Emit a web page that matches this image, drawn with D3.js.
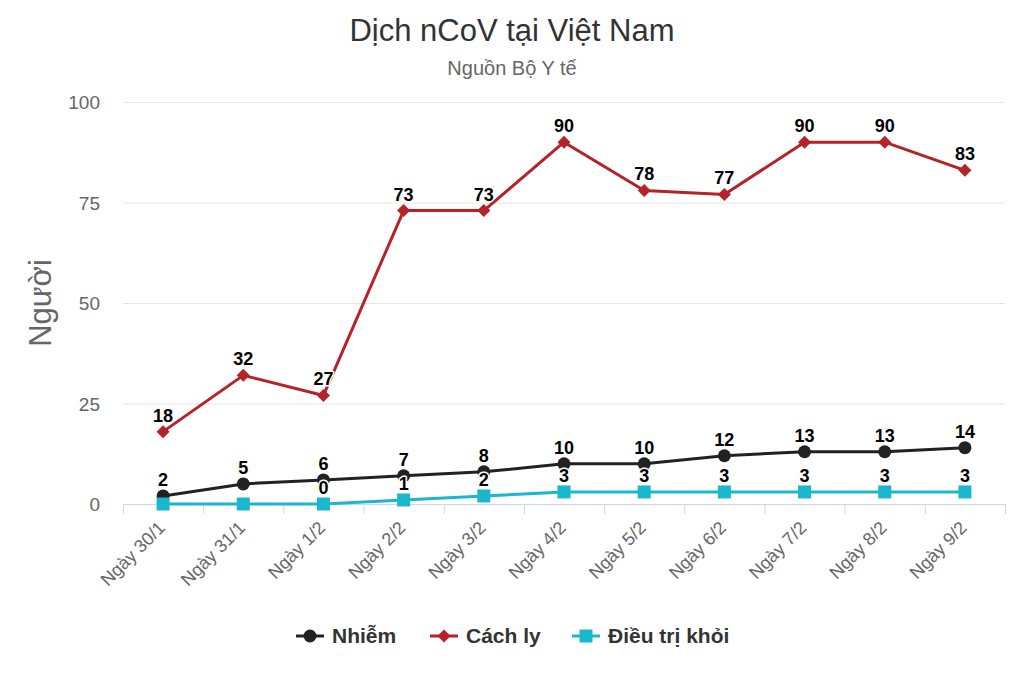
<!DOCTYPE html>
<html><head><meta charset="utf-8">
<script src="https://cdn.jsdelivr.net/npm/d3@7/dist/d3.min.js"></script>
<style>body{margin:0;background:#fff;font-family:"Liberation Sans",Arial,sans-serif;}</style>
</head><body><svg id="c" width="1024" height="683" font-family="Liberation Sans, Arial, sans-serif"></svg>
<script>
const categories = ["Ngày 30/1","Ngày 31/1","Ngày 1/2","Ngày 2/2","Ngày 3/2","Ngày 4/2","Ngày 5/2","Ngày 6/2","Ngày 7/2","Ngày 8/2","Ngày 9/2"];
const nhiem = [2,5,6,7,8,10,10,12,13,13,14];
const cachLy = [18,32,27,73,73,90,78,77,90,90,83];
const dieuTri = [0,0,0,1,2,3,3,3,3,3,3];
const yTicks = [0,25,50,75,100];
const seriesNames = ["Nhiễm","Cách ly","Điều trị khỏi"];
const hiddenLabels = {2:[0,1]}; // labels hidden by overlap in original

const series = [
  {name:seriesNames[0], values:nhiem, color:"#222222", symbol:"circle"},
  {name:seriesNames[1], values:cachLy, color:"#b5222a", symbol:"diamond"},
  {name:seriesNames[2], values:dieuTri, color:"#1bb7cf", symbol:"square"}
];

const svg = d3.select("#c");
const L=123, R=1005, T=102, B=504;
const x = d3.scaleBand().domain(categories).range([L,R]);
const y = d3.scaleLinear().domain([0,100]).range([B,T]);

svg.append("text").attr("x",512).attr("y",41).attr("text-anchor","middle")
  .attr("font-size",31).attr("fill","#333").text("Dịch nCoV tại Việt Nam");
svg.append("text").attr("x",512).attr("y",75).attr("text-anchor","middle")
  .attr("font-size",20).attr("fill","#666").text("Nguồn Bộ Y tế");

// grid
const g = svg.append("g");
g.selectAll("line.grid").data(yTicks.filter(d=>d>0)).enter().append("line")
  .attr("x1",L).attr("x2",R).attr("y1",d=>y(d)+0.5).attr("y2",d=>y(d)+0.5)
  .attr("stroke","#e6e6e6").attr("stroke-width",1);
g.selectAll("text.yt").data(yTicks).enter().append("text")
  .attr("x",100).attr("y",d=>y(d)+7).attr("text-anchor","end")
  .attr("font-size",19).attr("fill","#666").text(d=>d);

svg.append("text").attr("transform","translate(51,303) rotate(-90)")
  .attr("text-anchor","middle").attr("font-size",31).attr("fill","#666").text("Người");

// x axis
const xAxis = d3.axisBottom(x).tickSize(0).tickFormat("");
const ax = svg.append("g").attr("transform",`translate(0,${B})`).call(xAxis);
ax.select(".domain").attr("stroke","#ccd6eb").attr("d",`M${L},0.5H${R}`);
const bounds = categories.map(c=>x(c)).concat([R]);
ax.selectAll("line.tk").data(bounds).enter().append("line")
  .attr("x1",d=>d+0.5).attr("x2",d=>d+0.5).attr("y1",0).attr("y2",10)
  .attr("stroke","#ccd6eb");
svg.append("g").selectAll("text").data(categories).enter().append("text")
  .attr("transform",d=>`translate(${x(d)+x.bandwidth()/2+3},${B+25}) rotate(-45)`)
  .attr("text-anchor","end").attr("font-size",18).attr("fill","#666").text(d=>d);

function drawMarker(sel,sym,color,cx,cy){
  if(sym==="diamond"){
    const s=6.5;
    sel.append("path").attr("d",`M${cx},${cy-s}L${cx+s},${cy}L${cx},${cy+s}L${cx-s},${cy}Z`).attr("fill",color);
  } else if(sym==="square"){
    sel.append("rect").attr("x",cx-6.5).attr("y",cy-6.5).attr("width",13).attr("height",13).attr("fill",color);
  } else {
    sel.append("circle").attr("cx",cx).attr("cy",cy).attr("r",6.5).attr("fill",color);
  }
}
const cx = c=>x(c)+x.bandwidth()/2;
const line = d3.line().x((d,i)=>cx(categories[i])).y(d=>y(d));
const sg = svg.append("g");
series.forEach(s=>{
  const gg = sg.append("g");
  gg.append("path").attr("d",line(s.values)).attr("fill","none").attr("stroke",s.color).attr("stroke-width",3).attr("stroke-linejoin","round");
  s.values.forEach((v,i)=>drawMarker(gg,s.symbol,s.color,cx(categories[i]),y(v)));
});
const lg = svg.append("g");
series.forEach((s,si)=>{
  s.values.forEach((v,i)=>{
    if(hiddenLabels[si] && hiddenLabels[si].includes(i)) return;
    const px = cx(categories[i]), py = y(v)-10;
    lg.append("text").attr("x",px).attr("y",py).attr("text-anchor","middle")
      .attr("font-size",18).attr("font-weight","bold").attr("fill","#fff")
      .attr("stroke","#fff").attr("stroke-width",3).attr("stroke-linejoin","round").text(v);
    lg.append("text").attr("x",px).attr("y",py).attr("text-anchor","middle")
      .attr("font-size",18).attr("font-weight","bold").attr("fill","#000").text(v);
  });
});

// legend
const legendX = [296, 430, 572];
const leg = svg.append("g");
series.forEach((s,i)=>{
  const lx = legendX[i], ly=636;
  leg.append("line").attr("x1",lx).attr("x2",lx+28).attr("y1",ly).attr("y2",ly).attr("stroke",s.color).attr("stroke-width",3);
  drawMarker(leg,s.symbol,s.color,lx+14,ly);
  leg.append("text").attr("x",lx+36).attr("y",ly+7).attr("font-size",21).attr("font-weight","bold").attr("fill","#333").text(s.name);
});
</script></body></html>
